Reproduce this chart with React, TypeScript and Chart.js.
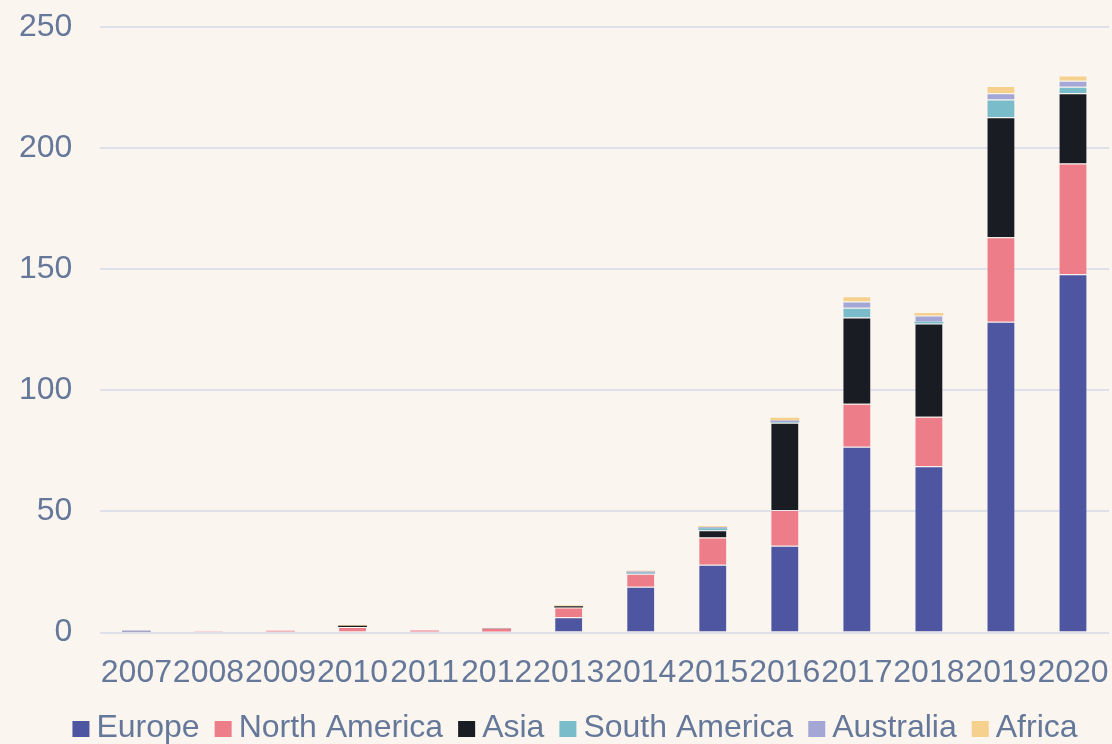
import React, { useEffect, useRef } from "react";
import { Chart, registerables } from "chart.js";

Chart.register(...registerables);

const years = ["2007", "2008", "2009", "2010", "2011", "2012", "2013", "2014", "2015", "2016", "2017", "2018", "2019", "2020"];
const europe = [0.8, 0, 0, 0.5, 0, 0.5, 6.3, 18.9, 28.0, 35.9, 76.7, 68.7, 128.3, 147.9];
const northAmerica = [0, 0.6, 0.8, 1.8, 0.9, 1.1, 4.1, 5.4, 11.3, 14.7, 17.8, 20.4, 34.9, 45.7];
const asia = [0, 0, 0, 0.5, 0, 0.1, 0.5, 0, 3.0, 36.0, 35.6, 38.5, 49.5, 29.1];
const southAmerica = [0, 0, 0, 0, 0, 0, 0, 0.4, 0.8, 0.2, 4.0, 0.7, 7.4, 2.6];
const australia = [0, 0, 0, 0, 0, 0, 0, 0.5, 0.4, 0.8, 2.6, 2.6, 2.5, 2.5];
const africa = [0, 0, 0, 0.3, 0, 0, 0.3, 0.3, 0.4, 1.1, 2.1, 1.0, 3.0, 2.2];
const yTicks = [0, 50, 100, 150, 200, 250];

const seriesNames = ["Europe", "North America", "Asia", "South America", "Australia", "Africa"];
const seriesColors = ["#4e55a1", "#ee7d8a", "#1a1c23", "#7bbccb", "#a4a7d5", "#f5d18d"];

const TEXT = "#66789a";
const FONT = "'Liberation Sans', Arial, sans-serif";
const FS = 32;

const legendPlugin = {
  id: "customLegend",
  afterDraw(chart: any) {
    const ctx = chart.ctx;
    ctx.save();
    ctx.font = `${FS}px ${FONT}`;
    const items = chart.data.datasets.map((d: any) => ({
      label: d.label as string,
      color: d.backgroundColor as string,
      w: ctx.measureText(d.label).width,
    }));
    const boxW = 17;
    const boxH = 16;
    const gapBoxText = 7;
    const gapItems = 15;
    const total =
      items.reduce((s: number, it: any) => s + boxW + gapBoxText + it.w, 0) + gapItems * (items.length - 1);
    let x = 575 - total / 2;
    const baseline = chart.height - 7;
    ctx.textAlign = "left";
    ctx.textBaseline = "alphabetic";
    for (const it of items) {
      ctx.fillStyle = it.color;
      ctx.fillRect(x, baseline - boxH, boxW, boxH);
      x += boxW + gapBoxText;
      ctx.fillStyle = TEXT;
      ctx.fillText(it.label, x, baseline);
      x += it.w + gapItems;
    }
    ctx.restore();
  },
};

export default function App() {
  const ref = useRef<HTMLCanvasElement | null>(null);

  useEffect(() => {
    if (!ref.current) return;
    const values = [europe, northAmerica, asia, southAmerica, australia, africa];
    const chart = new Chart(ref.current, {
      type: "bar",
      data: {
        labels: years,
        datasets: seriesNames.map((name, i) => ({
          label: name,
          data: values[i],
          backgroundColor: seriesColors[i],
          borderColor: "rgba(255,255,255,0.25)",
          borderWidth: (c: any) => (typeof c.raw === "number" && c.raw < 1.5 ? 0 : 1),
          categoryPercentage: 0.8,
          barPercentage: 0.5,
        })),
      },
      plugins: [legendPlugin],
      options: {
        animation: false,
        responsive: false,
        maintainAspectRatio: false,
        layout: { padding: { top: 27, right: 3, left: -9, bottom: 39 } },
        plugins: {
          legend: { display: false },
          tooltip: { enabled: false },
        },
        scales: {
          x: {
            stacked: true,
            grid: { display: false },
            border: { display: false },
            ticks: {
              color: TEXT,
              font: { size: FS, family: FONT },
              autoSkip: false,
              maxRotation: 0,
              minRotation: 0,
              padding: 13,
            },
            afterFit: (axis: any) => {
              axis.paddingLeft = 0;
              axis.paddingRight = 0;
            },
          },
          y: {
            stacked: true,
            min: 0,
            max: 250,
            afterBuildTicks: (axis: any) => {
              axis.ticks = yTicks.map((v) => ({ value: v }));
            },
            afterFit: (axis: any) => {
              axis.paddingTop = 0;
              axis.paddingBottom = 0;
            },
            grid: { color: "#dfe1ea", lineWidth: 2, drawTicks: false },
            border: { display: false },
            ticks: {
              color: TEXT,
              font: { size: FS, family: FONT },
              padding: 28,
            },
          },
        },
      },
    });
    return () => chart.destroy();
  }, []);

  return (
    <div style={{ position: "fixed", left: 0, top: 0, width: 1112, height: 744, background: "#faf5ef" }}>
      <canvas ref={ref} width={1112} height={744} style={{ display: "block" }} />
    </div>
  );
}
